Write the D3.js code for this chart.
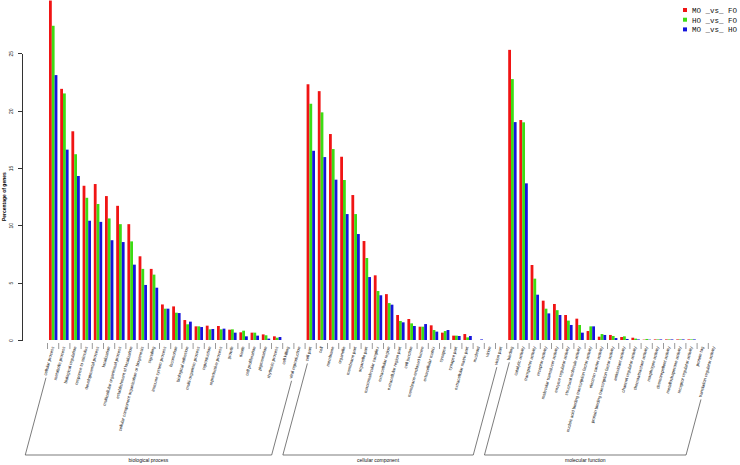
<!DOCTYPE html>
<html lang="en">
<head>
<meta charset="UTF-8">
<title>GO classification</title>
<script src="https://d3js.org/d3.v7.min.js"></script>
<style>
body { margin: 0; background: #fff; }
svg { display: block; font-family: "Liberation Sans", Arial, sans-serif; }
.axis path, .axis line { stroke: #333; shape-rendering: crispEdges; }
.axis text { font-size: 5px; fill: #111; }
.term { font-size: 4.3px; fill: #111; }
.grp { font-size: 5px; fill: #111; }
.legend text { font-family: "Liberation Mono", "DejaVu Sans Mono", monospace; font-size: 7.5px; fill: #111; }
</style>
</head>
<body>
<svg width="740" height="465"></svg>
<script>
// GO terms per ontology
const bpTerms = ["cellular process", "metabolic process", "biological regulation", "response to stimulus",
  "developmental process", "localization", "multicellular organismal process", "establishment of localization",
  "cellular component organization or biogenesis", "signaling", "immune system process", "locomotion",
  "biological adhesion", "multi-organism process", "reproduction", "reproductive process", "growth", "death",
  "cell proliferation", "pigmentation", "rhythmic process", "cell killing", "viral reproduction"];
const ccTerms = ["cell part", "cell", "membrane", "organelle", "membrane part", "organelle part",
  "macromolecular complex", "extracellular region", "extracellular region part", "cell junction",
  "membrane-enclosed lumen", "extracellular matrix", "synapse", "synapse part", "extracellular matrix part",
  "nucleoid", "virion", "virion part"];
const mfTerms = ["binding", "catalytic activity", "transporter activity", "receptor activity",
  "molecular transducer activity", "enzyme regulator activity", "structural molecule activity",
  "nucleic acid binding transcription factor activity", "electron carrier activity",
  "protein binding transcription factor activity", "antioxidant activity", "channel regulator activity",
  "chemoattractant activity", "morphogen activity", "chemorepellent activity", "metallochaperone activity",
  "receptor regulator activity", "protein tag", "translation regulator activity"];
const groupNames = ["biological process", "cellular component", "molecular function"];

const seriesNames = ["MO _vs_ FO", "HO _vs_ FO", "MO _vs_ HO"];
const seriesColors = ["#f01414", "#3cdc14", "#1414dc"];

// percentage of genes, same order as bp + cc + mf
const moFo = [29.6, 21.9, 18.2, 13.45, 13.6, 12.55, 11.7, 10.1, 7.3, 6.2, 3.1, 2.93, 1.74, 1.19, 1.25, 1.22, 0.9, 0.67, 0.64, 0.49, 0.32, 0, 0,
  22.3, 21.7, 17.96, 15.98, 12.64, 8.63, 5.64, 4.0, 2.18, 1.83, 1.16, 1.28, 0.64, 0.38, 0.52, 0, 0, 0,
  25.3, 19.18, 6.54, 3.43, 3.14, 2.18, 1.86, 0.78, 0.29, 0.44, 0.26, 0.2, 0.03, 0.05, 0.05, 0.05, 0.05, 0, 0];
const hoFo = [27.4, 21.5, 16.2, 12.4, 11.86, 10.6, 10.1, 8.6, 6.2, 5.7, 2.73, 2.38, 1.37, 1.19, 0.93, 0.93, 0.93, 0.81, 0.64, 0.41, 0.2, 0, 0,
  20.6, 19.85, 16.65, 13.95, 10.98, 7.15, 4.27, 3.22, 1.66, 1.45, 1.16, 0.87, 0.78, 0.38, 0.23, 0, 0, 0,
  22.75, 18.98, 5.35, 2.73, 2.6, 1.69, 1.31, 1.19, 0.52, 0.35, 0.32, 0.12, 0.09, 0.05, 0.05, 0.05, 0.05, 0, 0];
const moHo = [23.1, 16.6, 14.3, 10.4, 10.3, 8.7, 8.54, 6.57, 4.8, 4.56, 2.73, 2.35, 1.6, 1.13, 0.96, 0.99, 0.64, 0.32, 0.38, 0.12, 0.26, 0, 0,
  16.5, 15.95, 13.98, 10.98, 9.24, 5.49, 3.9, 3.08, 1.54, 1.22, 1.39, 0.73, 0.87, 0.35, 0.35, 0.05, 0, 0,
  19.0, 13.66, 3.95, 2.32, 2.18, 1.31, 0.64, 1.19, 0.44, 0.17, 0.09, 0.05, 0.03, 0.05, 0.05, 0.05, 0.05, 0, 0];
const yTicks = [0, 5, 10, 15, 20, 25];

const svg = d3.select("svg");
const terms = bpTerms.concat(ccTerms, mfTerms);
const groupOf = terms.map((t, i) => i < bpTerms.length ? 0 : (i < bpTerms.length + ccTerms.length ? 1 : 2));
const series = [moFo, hoFo, moHo];

const x = d3.scaleBand()
    .domain(d3.range(terms.length))
    .range([47.6, 719.6])
    .paddingInner(0.25)
    .paddingOuter(0.125);
const xs = d3.scaleBand()
    .domain([0, 1, 2])
    .range([0, x.bandwidth()]);
const y = d3.scaleLinear()
    .domain([0, 25])
    .range([340, 53.3]);

// y axis
const yAxis = svg.append("g")
    .attr("class", "axis")
    .attr("transform", "translate(22,0)")
    .call(d3.axisLeft(y).tickValues(yTicks).tickSize(4).tickSizeOuter(0));
yAxis.selectAll("text")
    .attr("transform", "rotate(-90)")
    .attr("x", 0)
    .attr("y", -9)
    .attr("dy", "0")
    .attr("text-anchor", "middle");

svg.append("text")
    .attr("class", "axis")
    .attr("transform", `translate(6,${y(12.5)}) rotate(-90)`)
    .attr("text-anchor", "middle")
    .style("font-size", "5px")
    .style("font-weight", "bold")
    .text("Percentage of genes");

// bars
series.forEach((vals, s) => {
    svg.append("g")
        .selectAll("rect")
        .data(vals)
        .join("rect")
        .attr("x", (d, i) => x(i) + xs(s))
        .attr("y", d => y(d))
        .attr("width", xs.bandwidth())
        .attr("height", d => y(0) - y(d))
        .attr("fill", seriesColors[s]);
});

// term ticks and labels
const labelTop = 347, bottomY = 455;
const ang = 75;
const cot = Math.cos(ang * Math.PI / 180) / Math.sin(ang * Math.PI / 180);

svg.append("g")
    .selectAll("line")
    .data(terms)
    .join("line")
    .attr("x1", (d, i) => x(i) - 1.5)
    .attr("x2", (d, i) => x(i) - 1.5)
    .attr("y1", 343)
    .attr("y2", 349)
    .attr("stroke", "#555")
    .attr("stroke-width", 0.6);

const labels = svg.append("g")
    .selectAll("text")
    .data(terms)
    .join("text")
    .attr("class", "term")
    .attr("text-anchor", "end")
    .attr("transform", (d, i) => `translate(${x(i) + x.bandwidth() / 2 + 1},${labelTop}) rotate(-${ang})`)
    .text(d => d);

// group brackets: leader lines from first/last label to the bottom line
const rad = ang * Math.PI / 180;
const nodes = labels.nodes();
groupNames.forEach((g, gi) => {
    const idx = d3.range(terms.length).filter(i => groupOf[i] === gi);
    const ends = [idx[0], idx[idx.length - 1]].map(i => {
        const ax = x(i) + x.bandwidth() / 2 + 1;
        const len = nodes[i].getComputedTextLength() + 2;
        const sx = ax - len * Math.cos(rad), sy = labelTop + len * Math.sin(rad);
        const bx = ax - (bottomY - labelTop) * cot;
        return {sx, sy, bx};
    });
    const grp = svg.append("g").attr("stroke", "#444").attr("stroke-width", 0.7).attr("fill", "none");
    ends.forEach(e => {
        grp.append("line").attr("x1", e.sx).attr("y1", e.sy).attr("x2", e.bx).attr("y2", bottomY);
    });
    grp.append("line").attr("x1", ends[0].bx).attr("x2", ends[1].bx).attr("y1", bottomY).attr("y2", bottomY);
    svg.append("text")
        .attr("class", "grp")
        .attr("x", (ends[0].bx + ends[1].bx) / 2)
        .attr("y", 462)
        .attr("text-anchor", "middle")
        .text(g);
});

// legend
const legend = svg.append("g").attr("class", "legend");
seriesNames.forEach((n, i) => {
    legend.append("rect")
        .attr("x", 683)
        .attr("y", 8 + i * 9.7)
        .attr("width", 4)
        .attr("height", 4)
        .attr("fill", seriesColors[i]);
    legend.append("text")
        .attr("x", 692)
        .attr("y", 13 + i * 9.7)
        .text(n);
});
</script>
</body>
</html>
